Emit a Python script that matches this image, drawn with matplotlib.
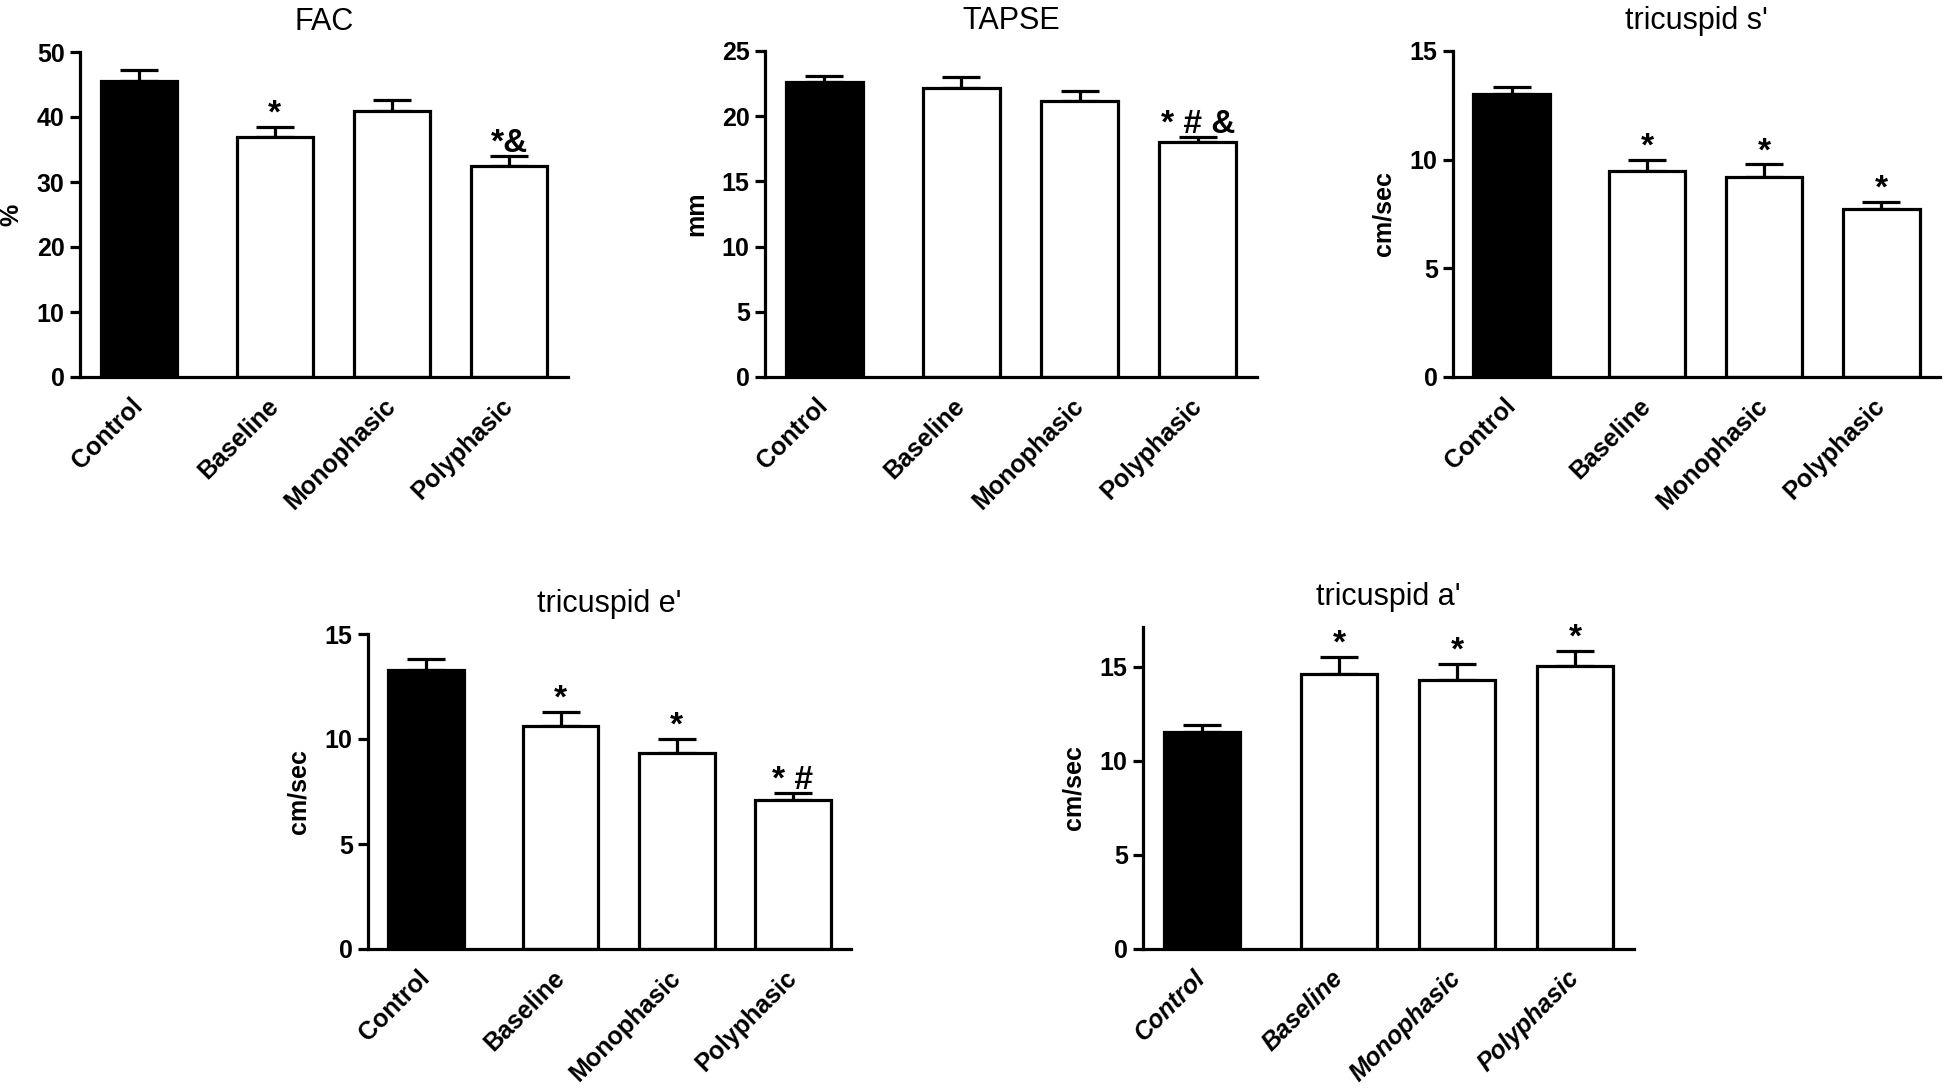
import matplotlib
matplotlib.use("Agg")
import matplotlib.pyplot as plt

# groups shared by every panel
groups = ["Control", "Baseline", "Monophasic", "Polyphasic"]

# FAC (%)
fac_mean = [45.5, 36.9, 40.9, 32.5]
fac_err  = [1.8, 1.6, 1.7, 1.5]
fac_sig  = ["", "*", "", "*&"]

# TAPSE (mm)
tapse_mean = [22.6, 22.2, 21.2, 18.0]
tapse_err  = [0.5, 0.8, 0.7, 0.4]
tapse_sig  = ["", "", "", "* # &"]

# tricuspid s' (cm/sec)
ts_mean = [13.0, 9.5, 9.2, 7.75]
ts_err  = [0.33, 0.48, 0.58, 0.3]
ts_sig  = ["", "*", "*", "*"]

# tricuspid e' (cm/sec)
te_mean = [13.3, 10.6, 9.35, 7.1]
te_err  = [0.5, 0.68, 0.67, 0.32]
te_sig  = ["", "*", "*", "* #"]

# tricuspid a' (cm/sec)
ta_mean = [11.5, 14.6, 14.3, 15.05]
ta_err  = [0.42, 0.93, 0.86, 0.78]
ta_sig  = ["", "*", "*", "*"]

FIG_W, FIG_H = 1944, 1090
FONT = ["Liberation Sans", "DejaVu Sans"]

# layout: bar slots (Prism style, a bit more space after Control)
x_pos   = [0.0, 1.16, 2.16, 3.16]
bar_w   = 0.65
x_lim   = (-0.5, 3.66)
lw      = 2.3


def make_axes(fig, left, right, top, bottom):
    # pixel box -> figure fraction
    return fig.add_axes([left / FIG_W, 1 - bottom / FIG_H,
                         (right - left) / FIG_W, (bottom - top) / FIG_H])


def panel(ax, title, y_label, means, errs, sigs, y_lim, y_ticks, x_style="normal"):
    colors = ["black", "white", "white", "white"]
    ax.bar(x_pos, means, width=bar_w, color=colors, edgecolor="black",
           linewidth=lw, zorder=2)
    ax.errorbar(x_pos, means, yerr=[[0] * 4, errs], fmt="none", ecolor="black",
                elinewidth=lw, capsize=13.5, capthick=lw, zorder=1)

    for x, m, e, s in zip(x_pos, means, errs, sigs):
        if s:
            ax.annotate(s, (x, m + e), xytext=(0, 3), textcoords="offset points",
                        ha="center", va="baseline", fontsize=24, fontweight="bold",
                        family=FONT)

    ax.set_xlim(x_lim)
    ax.set_ylim(y_lim)
    ax.set_yticks(y_ticks)
    ax.set_xticks(x_pos)
    ax.set_xticklabels(groups, rotation=45, ha="right", va="center",
                       rotation_mode="anchor", fontsize=18, fontweight="bold",
                       fontstyle=x_style, family=FONT)
    for lab in ax.get_yticklabels():
        lab.set_fontsize(18)
        lab.set_fontweight("bold")
        lab.set_family(FONT)

    ax.spines["top"].set_visible(False)
    ax.spines["right"].set_visible(False)
    ax.spines["left"].set_linewidth(lw)
    ax.spines["bottom"].set_linewidth(lw)
    ax.tick_params(axis="y", direction="out", length=7, width=lw, pad=4)
    ax.tick_params(axis="x", length=0, pad=18)

    ax.set_title(title, fontsize=22, family=FONT, pad=16)
    ax.set_ylabel(y_label, fontsize=18, fontweight="bold", family=FONT, labelpad=10)


def makePlots():
    fig = plt.figure(figsize=(FIG_W / 100, FIG_H / 100), dpi=100)
    fig.patch.set_facecolor("white")

    ax1 = make_axes(fig, 80, 568, 52, 377)
    panel(ax1, "FAC", "%", fac_mean, fac_err, fac_sig, (0, 50), range(0, 51, 10))

    ax2 = make_axes(fig, 765, 1257, 51, 377)
    panel(ax2, "TAPSE", "mm", tapse_mean, tapse_err, tapse_sig, (0, 25), range(0, 26, 5))

    ax3 = make_axes(fig, 1453, 1940, 51, 377)
    panel(ax3, "tricuspid s'", "cm/sec", ts_mean, ts_err, ts_sig, (0, 15), range(0, 16, 5))

    ax4 = make_axes(fig, 368, 851, 634, 949)
    panel(ax4, "tricuspid e'", "cm/sec", te_mean, te_err, te_sig, (0, 15), range(0, 16, 5))

    ax5 = make_axes(fig, 1143, 1634, 627, 949)
    panel(ax5, "tricuspid a'", "cm/sec", ta_mean, ta_err, ta_sig, (0, 17.1), range(0, 16, 5),
          x_style="italic")

    fig.savefig("out.png", dpi=100)


def main():
    makePlots()


if __name__ == "__main__":
    main()
